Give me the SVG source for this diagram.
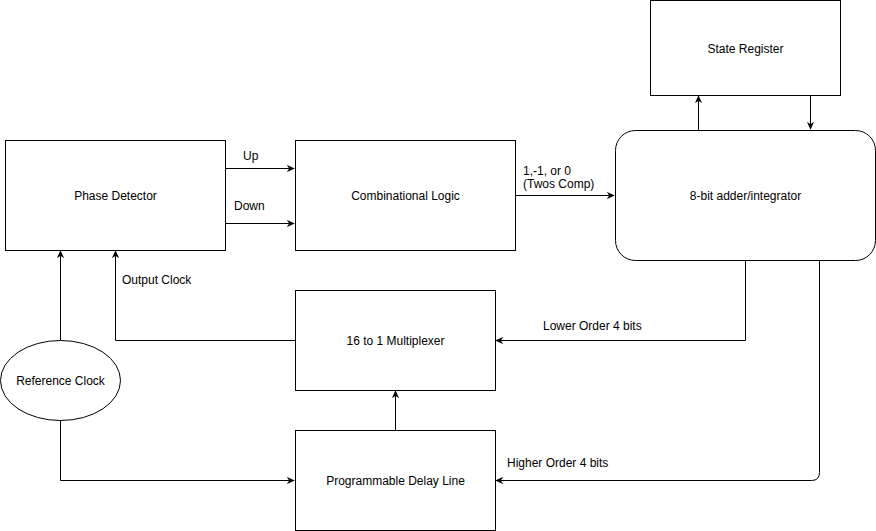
<svg xmlns="http://www.w3.org/2000/svg" width="876" height="531" viewBox="0 0 876 531">
<defs>
<marker id="arr" viewBox="0 0 10 10" refX="9" refY="5" markerWidth="8" markerHeight="8" markerUnits="userSpaceOnUse" orient="auto">
<path d="M0,0.5 L10,5 L0,9.5 L3,5 z" fill="#000"/>
</marker>
<style>
.box{fill:#fff;stroke:#000;stroke-width:1}
.lbl{font-family:"Liberation Sans",Arial,sans-serif;font-size:12px;fill:#000}
.c{text-anchor:middle}
.edge{fill:none;stroke:#000;stroke-width:1}
</style>
</defs>
<rect width="876" height="531" fill="#fff"/>
<g id="connectors">
<path class="edge" d="M225.5,168.5 H294" marker-end="url(#arr)"/>
<path class="edge" d="M225.5,223.5 H294" marker-end="url(#arr)"/>
<path class="edge" d="M515.5,195.5 H614" marker-end="url(#arr)"/>
<path class="edge" d="M698.5,130 V96" marker-end="url(#arr)"/>
<path class="edge" d="M810.5,96 V129" marker-end="url(#arr)"/>
<path class="edge" d="M745.5,260 V340.5 H496" marker-end="url(#arr)"/>
<path class="edge" d="M819.5,260 V472.5 Q819.5,480.5 811.5,480.5 H496" marker-end="url(#arr)"/>
<path class="edge" d="M395.5,430 V391" marker-end="url(#arr)"/>
<path class="edge" d="M295,340.5 H115.5 V251" marker-end="url(#arr)"/>
<path class="edge" d="M60.5,340 V251" marker-end="url(#arr)"/>
<path class="edge" d="M60.5,420 V480.5 H294" marker-end="url(#arr)"/>
<text class="lbl" x="243" y="160">Up</text>
<text class="lbl" x="234" y="210">Down</text>
<text class="lbl" x="523" y="175">1,-1, or 0</text>
<text class="lbl" x="523" y="188">(Twos Comp)</text>
<text class="lbl" x="122" y="284">Output Clock</text>
<text class="lbl" x="543" y="330">Lower Order 4 bits</text>
<text class="lbl" x="507" y="467">Higher Order 4 bits</text>
</g>
<g id="phase-detector">
<rect class="box" x="5.5" y="140.5" width="220" height="110"/>
<text class="lbl c" x="115.5" y="200">Phase Detector</text>
</g>
<g id="combinational-logic">
<rect class="box" x="295.5" y="140.5" width="220" height="110"/>
<text class="lbl c" x="405.5" y="200">Combinational Logic</text>
</g>
<g id="state-register">
<rect class="box" x="650.5" y="0.5" width="190" height="95"/>
<text class="lbl c" x="745.5" y="53">State Register</text>
</g>
<g id="adder">
<rect class="box" x="615.5" y="130.5" width="260" height="130" rx="20" ry="20"/>
<text class="lbl c" x="745.5" y="200">8-bit adder/integrator</text>
</g>
<g id="mux">
<rect class="box" x="295.5" y="290.5" width="200" height="100"/>
<text class="lbl c" x="395.5" y="345">16 to 1 Multiplexer</text>
</g>
<g id="delay-line">
<rect class="box" x="295.5" y="430.5" width="200" height="100"/>
<text class="lbl c" x="395.5" y="485">Programmable Delay Line</text>
</g>
<g id="reference-clock">
<ellipse class="box" cx="60.5" cy="380.5" rx="60" ry="40"/>
<text class="lbl c" x="60.5" y="385">Reference Clock</text>
</g>
</svg>
